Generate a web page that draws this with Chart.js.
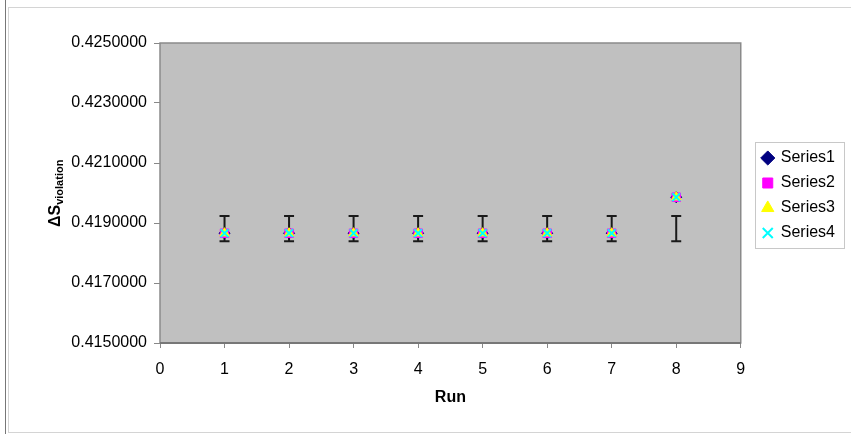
<!DOCTYPE html>
<html>
<head>
<meta charset="utf-8">
<script src="https://cdn.jsdelivr.net/npm/chart.js@4"></script>
<style>
html,body{margin:0;padding:0;background:#fff;}
#wrap{position:relative;width:851px;height:434px;}
canvas{display:block;}
</style>
</head>
<body>
<div id="wrap"><canvas id="c" width="851" height="434"></canvas></div>
<script>
// ---- data ----
const runs = [1, 2, 3, 4, 5, 6, 7, 8];
const series1 = [0.41866, 0.41866, 0.41866, 0.41866, 0.41866, 0.41866, 0.41866, 0.41986];
const series2 = [0.41866, 0.41866, 0.41866, 0.41866, 0.41866, 0.41866, 0.41866, 0.41986];
const series3 = [0.41866, 0.41866, 0.41866, 0.41866, 0.41866, 0.41866, 0.41866, 0.41986];
const series4 = [0.41866, 0.41866, 0.41866, 0.41866, 0.41866, 0.41866, 0.41866, 0.41986];
const errLow  = [0.41839, 0.41839, 0.41839, 0.41839, 0.41839, 0.41839, 0.41839, 0.41839];
const errHigh = [0.41923, 0.41923, 0.41923, 0.41923, 0.41923, 0.41923, 0.41923, 0.41923];
const seriesNames = ['Series1', 'Series2', 'Series3', 'Series4'];
const xTicks = [0, 1, 2, 3, 4, 5, 6, 7, 8, 9];
const yTicks = [0.415, 0.417, 0.419, 0.421, 0.423, 0.425];
const xTitle = 'Run';
const yTitleMain = 'ΔS';
const yTitleSub = 'violation';

const FONT = "'Liberation Sans', Arial, sans-serif";
const toPts = vals => runs.map((r, i) => ({x: r, y: vals[i]}));

const styles = [
  {bg: '#000080', border: '#000080', ps: 'rectRot', r: 5.5},
  {bg: '#FF00FF', border: '#FF00FF', ps: 'rect', r: 6},
  {bg: '#FFFF00', border: '#FFFF00', ps: 'triangle', r: 5.5},
  {bg: '#00FFFF', border: '#00FFFF', ps: 'crossRot', r: 5.5}
];
const allSeries = [series1, series2, series3, series4];

const datasets = allSeries.map((s, i) => ({
  label: seriesNames[i],
  data: toPts(s),
  backgroundColor: styles[i].bg,
  borderColor: styles[i].border,
  pointStyle: styles[i].ps,
  pointRadius: styles[i].r,
  pointHoverRadius: styles[i].r,
  pointBorderWidth: styles[i].ps === 'crossRot' ? 2 : 1,
  showLine: false,
  order: 3 - i
}));

const legendShiftPlugin = {
  id: 'legendShift',
  afterLayout(chart) {
    const lg = chart.legend;
    if (!lg) return;
    const dx = 13, dy = -43;
    lg.left += dx; lg.right += dx;
    lg.top += dy; lg.bottom += dy;
  }
};

const framePlugin = {
  id: 'frame',
  beforeDraw(chart) {
    const ctx = chart.ctx;
    ctx.save();
    ctx.fillStyle = '#fff';
    ctx.fillRect(0, 0, chart.width, chart.height);
    ctx.strokeStyle = '#d4d4d4';
    ctx.lineWidth = 1;
    ctx.strokeRect(8.5, 7.5, chart.width, 425);
    ctx.strokeStyle = '#777';
    ctx.beginPath(); ctx.moveTo(5.5, 0); ctx.lineTo(5.5, chart.height); ctx.stroke();
    const a = chart.chartArea;
    ctx.fillStyle = '#c0c0c0';
    ctx.fillRect(a.left, a.top, a.right - a.left, a.bottom - a.top);
    ctx.restore();
  },
  afterDraw(chart) {
    const ctx = chart.ctx, a = chart.chartArea;
    ctx.save();
    ctx.strokeStyle = '#8a8a8a';
    ctx.lineWidth = 1.5;
    ctx.strokeRect(a.left, a.top, a.right - a.left, a.bottom - a.top);
    ctx.strokeStyle = '#777';
    ctx.lineWidth = 2;
    ctx.beginPath(); ctx.moveTo(a.left, a.bottom); ctx.lineTo(a.right, a.bottom); ctx.stroke();
    // legend border
    const hb = chart.legend.legendHitBoxes;
    if (hb && hb.length) {
      let minX = Infinity, minY = Infinity, maxX = -Infinity, maxY = -Infinity;
      hb.forEach(b => { minX = Math.min(minX, b.left); minY = Math.min(minY, b.top);
        maxX = Math.max(maxX, b.left + b.width); maxY = Math.max(maxY, b.top + b.height); });
      ctx.strokeStyle = '#c8c8c8';
      ctx.lineWidth = 1;
      ctx.strokeRect(Math.round(minX - 8) + 0.5, Math.round(minY - 8) + 0.5, Math.round(maxX - minX + 17), Math.round(maxY - minY + 15));
    }
    // y title with subscript
    ctx.translate(60, 227);
    ctx.rotate(-Math.PI / 2);
    ctx.fillStyle = '#000';
    ctx.textBaseline = 'alphabetic';
    ctx.textAlign = 'left';
    ctx.font = 'bold 16px ' + FONT;
    ctx.fillText(yTitleMain, 0, 0);
    const w = ctx.measureText(yTitleMain).width;
    ctx.font = 'bold 11px ' + FONT;
    ctx.fillText(yTitleSub, w, 3);
    ctx.restore();
  }
};

const errorBarPlugin = {
  id: 'errbars',
  beforeDatasetsDraw(chart) {
    const ctx = chart.ctx, xs = chart.scales.x, ys = chart.scales.y;
    ctx.save();
    ctx.strokeStyle = '#1a1a1a';
    ctx.lineWidth = 2;
    runs.forEach((r, i) => {
      const x = xs.getPixelForValue(r);
      const y1 = ys.getPixelForValue(errLow[i]);
      const y2 = ys.getPixelForValue(errHigh[i]);
      ctx.beginPath();
      ctx.moveTo(x, y1); ctx.lineTo(x, y2);
      ctx.moveTo(x - 5, y1); ctx.lineTo(x + 5, y1);
      ctx.moveTo(x - 5, y2); ctx.lineTo(x + 5, y2);
      ctx.stroke();
    });
    ctx.restore();
  }
};

new Chart(document.getElementById('c'), {
  type: 'scatter',
  data: {datasets},
  options: {
    responsive: false,
    animation: false,
    layout: {padding: {top: 43, right: 19, bottom: 0, left: 0}},
    plugins: {
      tooltip: {enabled: false},
      legend: {
        position: 'right',
        align: 'center',
        labels: {
          usePointStyle: true,
          boxWidth: 10,
          boxHeight: 10,
          padding: 9,
          color: '#000',
          font: {family: FONT, size: 16},
          sort: (a, b) => a.datasetIndex - b.datasetIndex
        }
      }
    },
    scales: {
      x: {
        type: 'linear',
        min: 0, max: 9,
        afterBuildTicks: s => { s.ticks = xTicks.map(v => ({value: v})); },
        afterFit: s => { s.height = 91; },
        grid: {display: true, drawOnChartArea: false, tickLength: 5, color: '#888'},
        border: {display: false},
        ticks: {color: '#000', font: {family: FONT, size: 16}, padding: 12, maxRotation: 0},
        title: {display: true, text: xTitle, color: '#000', font: {family: FONT, size: 16, weight: 'bold'}, padding: {top: 8, bottom: 27}}
      },
      y: {
        type: 'linear',
        min: 0.415, max: 0.425,
        afterBuildTicks: s => { s.ticks = yTicks.map(v => ({value: v})); },
        afterFit: s => { s.width = 160; },
        grid: {display: true, drawOnChartArea: false, tickLength: 6, color: '#888'},
        border: {display: false},
        ticks: {color: '#000', font: {family: FONT, size: 16}, padding: 7, callback: v => Number(v).toFixed(7)}
      }
    }
  },
  plugins: [legendShiftPlugin, framePlugin, errorBarPlugin]
});
</script>
</body>
</html>
